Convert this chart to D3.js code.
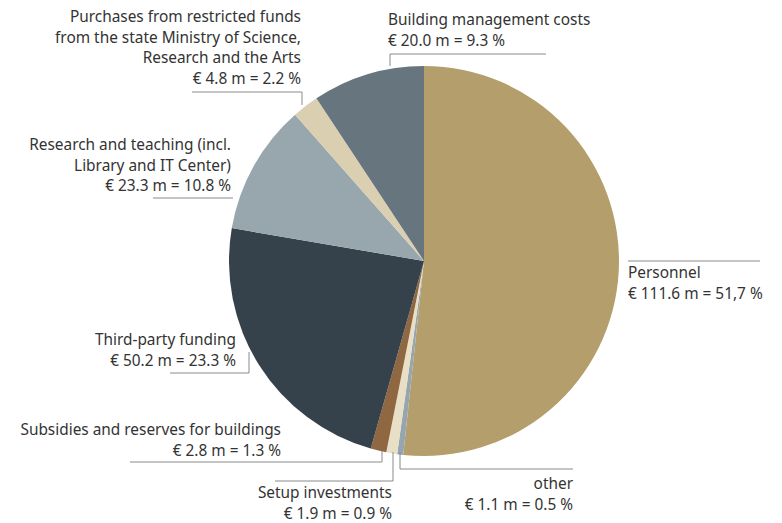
<!DOCTYPE html>
<html>
<head>
<meta charset="utf-8">
<script src="https://cdn.jsdelivr.net/npm/d3@7"></script>
<style>
  body { margin: 0; background: #fff; }
  svg text { font-family: "Noto Sans", sans-serif; font-size: 15.4px; fill: #333; }
</style>
</head>
<body>
<svg id="chart"></svg>
<script>
const width = 782;
const height = 523;

// data, clockwise from 12 o'clock
const categories = [
  "Personnel",
  "other",
  "Setup investments",
  "Subsidies and reserves for buildings",
  "Third-party funding",
  "Research and teaching (incl.|Library and IT Center)",
  "Purchases from restricted funds|from the state Ministry of Science,|Research and the Arts",
  "Building management costs"
];
const amounts = [111.6, 1.1, 1.9, 2.8, 50.2, 23.3, 4.8, 20.0];
const shares = [51.7, 0.5, 0.9, 1.3, 23.3, 10.8, 2.2, 9.3];
const colors = ["#b49f6c", "#97a5ae", "#e8dfc6", "#8f6741", "#35424c", "#98a6ad", "#dbcfb1", "#66757e"];

// label layout: anchor, x, first baseline, leader polyline
const labelLayout = [
  { anchor: "start", x: 628, y: 278, line: [[628, 261], [760, 261]] },
  { anchor: "end", x: 573, y: 489, line: [[400, 452], [400, 469], [573, 469]] },
  { anchor: "end", x: 392, y: 498, line: [[393, 452], [393, 481], [275, 481]] },
  { anchor: "end", x: 281, y: 435, line: [[382, 451], [382, 462], [130, 462]] },
  { anchor: "end", x: 236, y: 345, line: [[249, 352], [249, 373], [170, 373]] },
  { anchor: "end", x: 231, y: 150, line: [[153, 198], [233, 198]] },
  { anchor: "end", x: 301, y: 22, line: [[302, 105], [302, 92], [192, 92]] },
  { anchor: "start", x: 388, y: 25, line: [[390, 66], [390, 54], [546, 54]] }
];

const cx = 424, cy = 261, radius = 195;
const lineHeight = 20.5;

const svg = d3.select("#chart").attr("width", width).attr("height", height);

const data = categories.map((c, i) => ({ name: c, amount: amounts[i], share: shares[i], color: colors[i], layout: labelLayout[i] }));

const pie = d3.pie().sort(null).value((d) => d.share);
const arc = d3.arc().innerRadius(0).outerRadius(radius);

// Slices
svg.append("g")
  .attr("transform", `translate(${cx}, ${cy})`)
  .selectAll("path")
  .data(pie(data))
  .enter()
  .append("path")
  .attr("d", arc)
  .attr("fill", (d) => d.data.color);

const fmt = d3.format(".1f");
const valueText = (d) => {
  let pct = fmt(d.share);
  if (d.name === "Personnel") pct = pct.replace(".", ",");
  return `€ ${fmt(d.amount)} m = ${pct} %`;
};

// Leader lines
svg.append("g")
  .selectAll("polyline")
  .data(data)
  .enter()
  .append("polyline")
  .attr("points", (d) => d.layout.line.map((p) => p.join(",")).join(" "))
  .attr("fill", "none")
  .attr("stroke", "#8a8a8a")
  .attr("stroke-width", 1);

// Labels
const labels = svg.append("g")
  .selectAll("text")
  .data(data)
  .enter()
  .append("text")
  .attr("text-anchor", (d) => d.layout.anchor)
  .attr("x", (d) => d.layout.x)
  .attr("y", (d) => d.layout.y);

labels.each(function (d) {
  const lines = d.name.split("|").concat([valueText(d)]);
  d3.select(this)
    .selectAll("tspan")
    .data(lines)
    .enter()
    .append("tspan")
    .attr("x", d.layout.x)
    .attr("dy", (l, i) => (i === 0 ? 0 : lineHeight))
    .text((l) => l);
});
</script>
</body>
</html>
